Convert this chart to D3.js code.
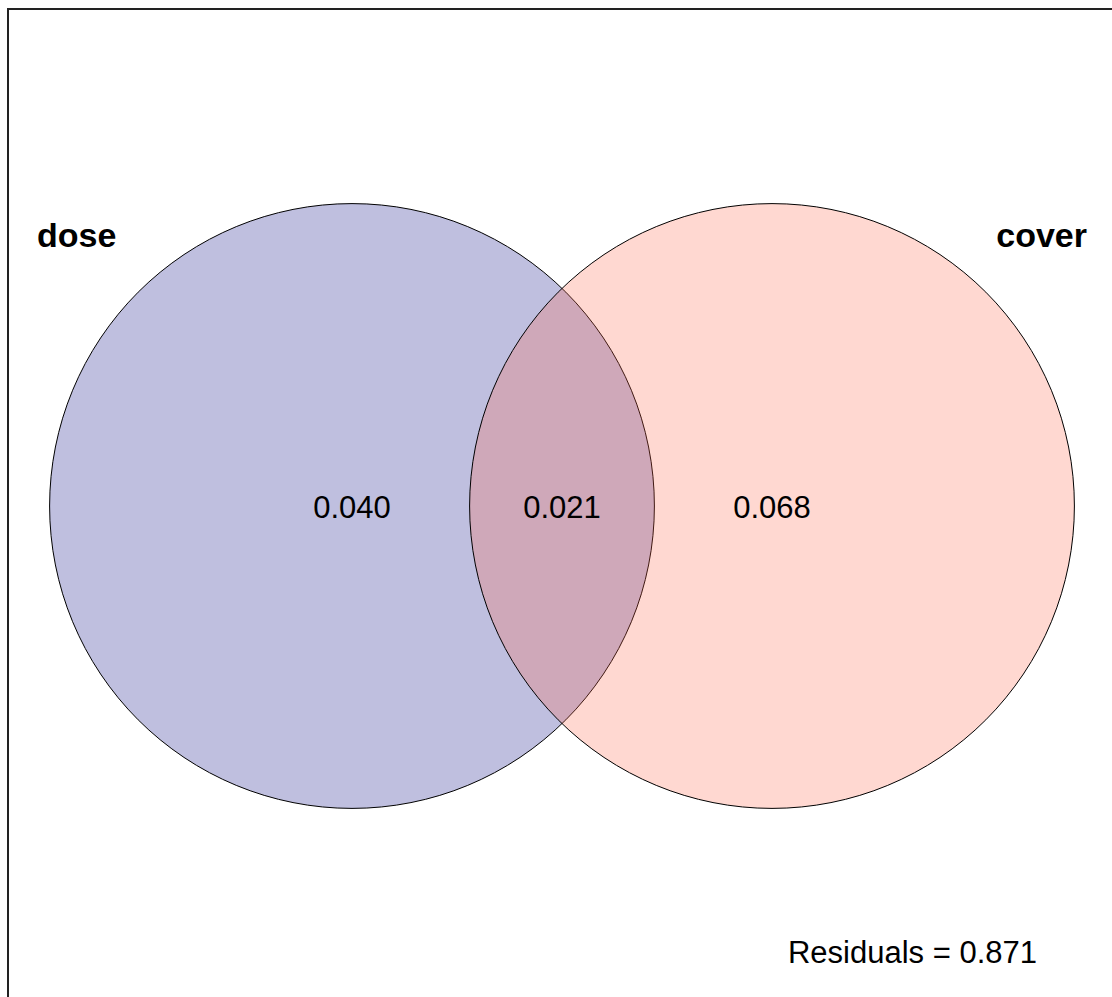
<!DOCTYPE html>
<html><head><meta charset="utf-8">
<script src="https://cdn.jsdelivr.net/npm/d3@7"></script>
<style>html,body{margin:0;padding:0;background:#fff;overflow:hidden}</style>
</head><body>
<svg id="chart" width="1112" height="997"></svg>
<script>
// Data
const setNames = ["dose", "cover"];
const setCenters = [-0.5, 0.5];          // layout units
const setRadius = 0.72;                  // layout units
const setColors = ["#000080", "#FF6347"];
const regionLabels = ["0.040", "0.021", "0.068"];
const regionPos = [-0.5, 0.0, 0.5];      // layout units
const residualText = "Residuals = 0.871";

const svg = d3.select("#chart");
const x = d3.scaleLinear().domain([-0.5, 0.5]).range([352, 772]);
const y = d3.scaleLinear().domain([-0.5, 0.5]).range([716, 296]);
const k = x(1) - x(0);

// frame
svg.append("rect").attr("x", 8).attr("y", 9).attr("width", 1120).attr("height", 1010)
  .attr("fill", "none").attr("stroke", "#222").attr("stroke-width", 2);

svg.selectAll("circle.set").data(setNames).join("circle")
  .attr("class", "set")
  .attr("cx", (d, i) => x(setCenters[i]))
  .attr("cy", y(0))
  .attr("r", setRadius * k)
  .attr("fill", (d, i) => setColors[i])
  .attr("fill-opacity", 0.25)
  .attr("stroke", "#000")
  .attr("stroke-width", 1);

svg.selectAll("text.region").data(regionLabels).join("text")
  .attr("class", "region")
  .attr("x", (d, i) => x(regionPos[i]))
  .attr("y", y(0) + 12)
  .attr("text-anchor", "middle")
  .attr("font-family", "Liberation Sans, Arial, sans-serif")
  .attr("font-size", 31)
  .attr("fill", "#000")
  .text(d => d);

svg.selectAll("text.setlabel").data(setNames).join("text")
  .attr("class", "setlabel")
  .attr("x", (d, i) => i === 0 ? 37 : 1087)
  .attr("y", 247)
  .attr("text-anchor", (d, i) => i === 0 ? "start" : "end")
  .attr("font-family", "Liberation Sans, Arial, sans-serif")
  .attr("font-weight", "bold")
  .attr("font-size", 34)
  .attr("fill", "#000")
  .text(d => d);

svg.append("text")
  .attr("x", 1037).attr("y", 963)
  .attr("text-anchor", "end")
  .attr("font-family", "Liberation Sans, Arial, sans-serif")
  .attr("font-size", 31)
  .attr("fill", "#000")
  .text(residualText);
</script>
</body></html>
